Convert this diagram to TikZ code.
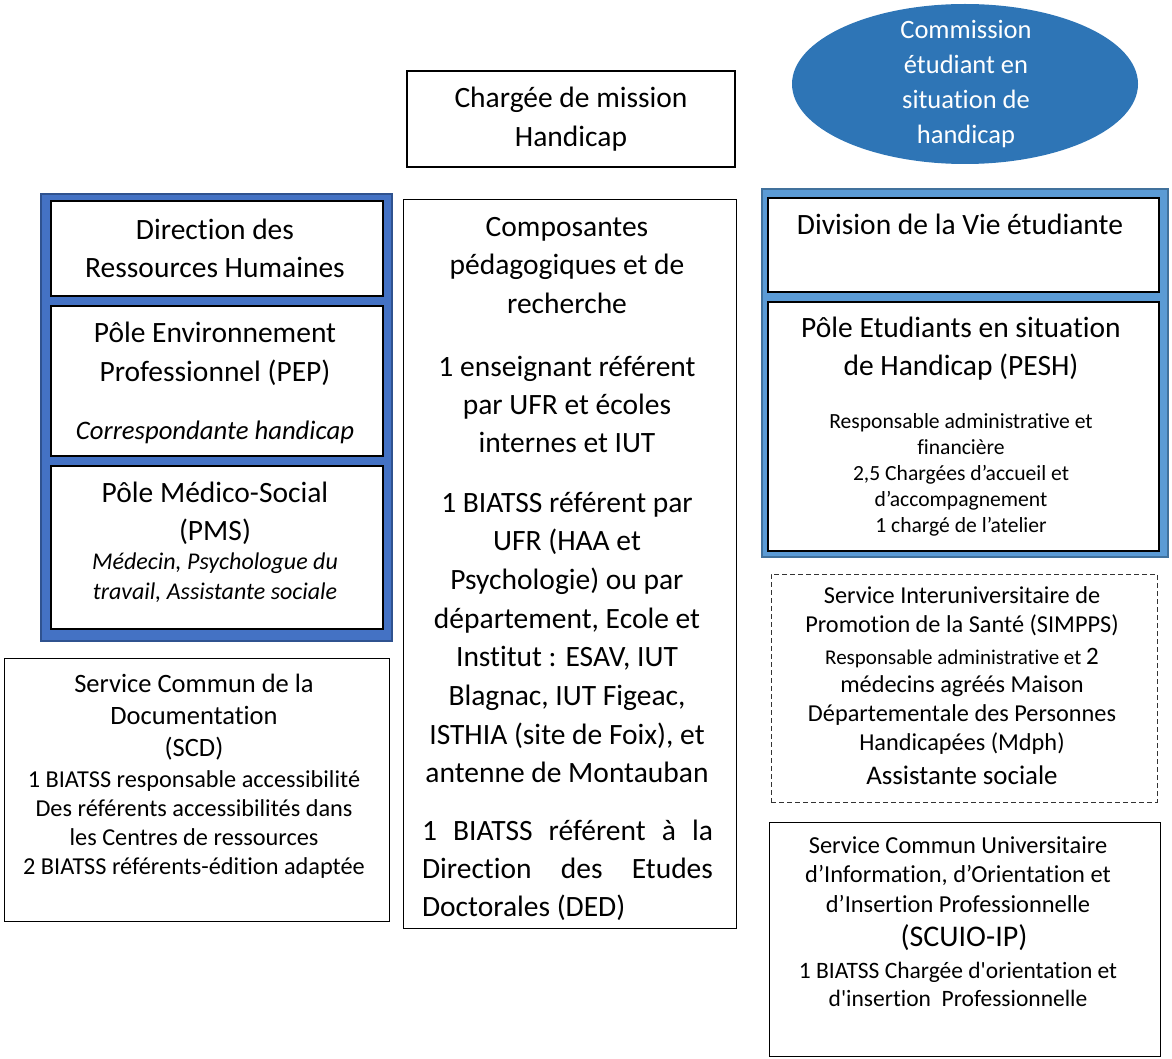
\documentclass[tikz,border=0pt]{standalone}
\usepackage{fontspec}
\setmainfont{Carlito}[Ligatures={NoCommon}]
\usetikzlibrary{shapes.geometric}
\definecolor{eblue}{HTML}{2E75B6}
\definecolor{lblue}{HTML}{4472C4}
\definecolor{lblueline}{HTML}{2F528F}
\definecolor{rblue}{HTML}{5B9BD5}
\definecolor{rblueline}{HTML}{41719C}
\newcommand\fsz[2]{\fontsize{#1}{#2}\selectfont}
\tikzset{
  bx/.style={draw=black, line width=1.1pt, fill=white, inner sep=0pt, rectangle},
  frame/.style={rectangle, inner sep=0pt, line width=1.2pt},
  txt/.style={align=center, inner sep=0pt, text=black},
}
\begin{document}
\begin{tikzpicture}[x=1pt,y=-1pt]
\useasboundingbox (0,0) rectangle (1172,1059);
% Chargée de mission
\node[bx, minimum width=328, minimum height=96] (cm) at (571,119) {};
\node[txt, font=\fsz{29.5}{39}] (cmt) at (cm.center) {Chargée de mission\\Handicap};
% Ellipse
\node[ellipse, fill=eblue, minimum width=346, minimum height=160, inner sep=0pt] (com) at (965,84) {};
\node[txt, text=white, font=\fsz{26.5}{34.7}] (comt) at (966,84) {Commission\\étudiant en\\situation de\\handicap};
% Left frame
\node[frame, draw=lblueline, fill=lblue, minimum width=351, minimum height=447] (lf) at (216.5,417.5) {};
\node[bx, minimum width=332, minimum height=95] (drh) at (217,248.5) {};
\node[txt, font=\fsz{29.5}{38}] (drht) at (215,248) {Direction des\\Ressources Humaines};
\node[bx, minimum width=332, minimum height=150] (pep) at (217,381) {};
\node[txt, font=\fsz{29.5}{39}] (pept) at (215,353.5) {Pôle Environnement\\Professionnel (PEP)};
\node[txt, font=\fsz{26.7}{30}\itshape] (pepi) at (215,432) {Correspondante handicap};
\node[bx, minimum width=332, minimum height=163] (pms) at (217,547.5) {};
\node[txt, font=\fsz{29.5}{38}] (pmst) at (215,513) {Pôle Médico-Social\\(PMS)};
\node[txt, font=\fsz{24}{30}\itshape] (pmsi) at (215,578) {Médecin, Psychologue du\\travail, Assistante sociale};
% Middle
\node[bx, line width=1pt, minimum width=333, minimum height=728] (mid) at (569.5,564) {};
\node[txt, font=\fsz{29.5}{38.5}] (m1) at (567,265.5) {Composantes\\pédagogiques et de\\recherche};
\node[txt, font=\fsz{29.5}{38}] (m2) at (567,404) {1 enseignant référent\\par UFR et écoles\\internes et IUT};
\node[txt, font=\fsz{29.5}{38.7}] (m3) at (567,637.5) {1 BIATSS référent par\\UFR (HAA et\\Psychologie) ou par\\département, Ecole et\\Institut : ESAV, IUT\\Blagnac, IUT Figeac,\\ISTHIA (site de Foix), et\\antenne de Montauban};
\node[inner sep=0pt, text width=291pt, align=justify, font=\fsz{29.5}{38}] (m4) at (567.5,870) {1 BIATSS référent à la\linebreak Direction des Etudes\linebreak Doctorales (DED)};
% Right frame
\node[frame, draw=rblueline, fill=rblue, minimum width=406, minimum height=368] (rf) at (965,373) {};
\node[bx, minimum width=391, minimum height=94] (dve) at (963.5,245) {};
\node[txt, font=\fsz{29.5}{38}] (dvet) at (960,224) {Division de la Vie étudiante};
\node[bx, minimum width=391, minimum height=249] (pesh) at (963.5,426.5) {};
\node[txt, font=\fsz{29.5}{38}] (pesht) at (961,349) {Pôle Etudiants en situation\\de Handicap (PESH)};
\node[txt, font=\fsz{21.6}{26}] (peshs) at (961,475) {Responsable administrative et\\financière\\2,5 Chargées d’accueil et\\d’accompagnement\\1 chargé de l’atelier};
% Dashed box
\node[rectangle, draw=black!80, line width=1pt, dash pattern=on 5pt off 3pt, minimum width=386, minimum height=228, inner sep=0pt] (sim) at (964,688) {};
\node[txt, font=\fsz{24.3}{29}] (sim1) at (962,611.5) {Service Interuniversitaire de\\Promotion de la Santé (SIMPPS)};
\node[txt, font=\fsz{21}{26}] (sim2) at (962,658) {Responsable administrative et {\fsz{25}{26}2}};
\node[txt, font=\fsz{24.3}{29}] (sim3) at (962,715) {médecins agréés Maison\\Départementale des Personnes\\Handicapées (Mdph)};
\node[txt, font=\fsz{26.9}{30}] (sim4) at (962,775) {Assistante sociale};
% SCD
\node[bx, line width=1pt, minimum width=385, minimum height=263] (scd) at (196.5,789.5) {};
\node[txt, font=\fsz{26.5}{32}] (scd1) at (194,717) {Service Commun de la\\Documentation\\(SCD)};
\node[txt, font=\fsz{24.3}{29.3}] (scd2) at (194,824.5) {1 BIATSS responsable accessibilité\\Des référents accessibilités dans\\les Centres de ressources\\2 BIATSS référents-édition adaptée};
% SCUIO
\node[bx, line width=1pt, minimum width=391, minimum height=234] (scu) at (964.5,939) {};
\node[txt, font=\fsz{24.4}{29.5}] (scu1) at (958,874.5) {Service Commun Universitaire\\d’Information, d’Orientation et\\d’Insertion Professionnelle};
\node[txt, font=\fsz{30}{30}] (scu2) at (964,938) {(SCUIO-IP)};
\node[txt, font=\fsz{23.5}{28}] (scu3) at (958,984) {1 BIATSS Chargée d\textquotesingle orientation et\\d\textquotesingle insertion~ Professionnelle};
\end{tikzpicture}
\end{document}
